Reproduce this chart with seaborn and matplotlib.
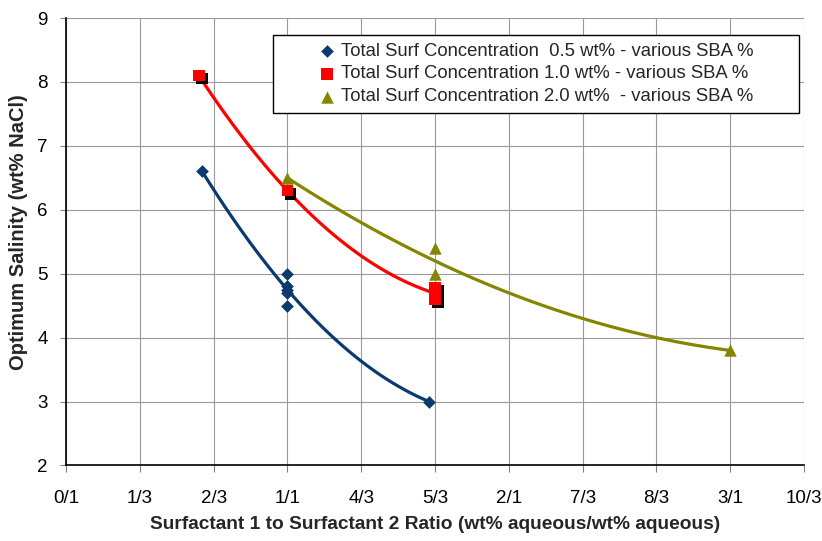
import numpy as np
import matplotlib
matplotlib.use("Agg")
import matplotlib.pyplot as plt
import matplotlib.patheffects as pe
from matplotlib.patches import Rectangle
import seaborn as sns

# ---------------- data ----------------
blue_label = "Total Surf Concentration  0.5 wt% - various SBA %"
blue_x = [0.615, 1.0, 1.0, 1.0, 1.0, 1.0, 1.64]
blue_y = [6.6, 5.0, 4.8, 4.75, 4.7, 4.5, 3.0]

red_label = "Total Surf Concentration 1.0 wt% - various SBA %"
red_x = [0.6, 1.0, 5 / 3, 5 / 3, 5 / 3]
red_y = [8.1, 6.3, 4.6, 4.7, 4.78]

olive_label = "Total Surf Concentration 2.0 wt%  - various SBA %"
olive_x = [1.0, 5 / 3, 5 / 3, 3.0]
olive_y = [6.5, 5.4, 5.0, 3.8]

x_tick_labels = ["0/1", "1/3", "2/3", "1/1", "4/3", "5/3", "2/1", "7/3", "8/3", "3/1", "10/3"]
y_ticks = [2, 3, 4, 5, 6, 7, 8, 9]

x_label = "Surfactant 1 to Surfactant 2 Ratio (wt% aqueous/wt% aqueous)"
y_label = "Optimum Salinity (wt% NaCl)"

# ---------------- style ----------------
sns.set_style("white")
plt.rcParams["font.family"] = ["Liberation Sans", "DejaVu Sans"]

BLUE = "#0A3A6E"
RED = "#FF0000"
OLIVE = "#858500"

fig = plt.figure(figsize=(8.22, 5.41), dpi=100)
ax = fig.add_axes([0.0803, 0.1396, 0.8978, 0.8271])

# trend lines (2nd order fits computed by seaborn)
for xs, ys, c in [(blue_x, blue_y, BLUE), (red_x, red_y, RED), (olive_x, olive_y, OLIVE)]:
    sns.regplot(x=np.array(xs), y=np.array(ys), order=2, ci=None, scatter=False,
                truncate=True, color=c, line_kws={"lw": 2.3, "zorder": 3}, ax=ax)

# markers
sns.scatterplot(x=blue_x, y=blue_y, marker="D", s=42, color=BLUE, linewidth=0,
                zorder=4, label=blue_label, ax=ax)
sns.scatterplot(x=red_x, y=red_y, marker="s", s=72, color=RED, linewidth=0,
                zorder=4, label=red_label, ax=ax)
sns.scatterplot(x=olive_x, y=olive_y, marker="^", s=80, color=OLIVE, linewidth=0,
                zorder=4, label=olive_label, ax=ax)

# shadow on red squares
red_coll = ax.collections[1]
red_coll.set_path_effects([pe.SimplePatchShadow(offset=(2.2, -2.2), shadow_rgbFace="black", alpha=1.0),
                           pe.Normal()])

# axes
n_ticks = len(x_tick_labels)
ax.set_xlim(0, (n_ticks - 1) / 3)
ax.set_ylim(min(y_ticks), max(y_ticks))
ax.set_xticks(np.arange(n_ticks) / 3)
ax.set_xticklabels(x_tick_labels)
ax.set_yticks(y_ticks)

ax.grid(True, color="#9A9A9A", lw=0.8, zorder=0)
ax.set_axisbelow(True)
for s in ["top", "right"]:
    ax.spines[s].set_visible(False)
for s in ["left", "bottom"]:
    ax.spines[s].set_color("black")
    ax.spines[s].set_linewidth(1.2)
    ax.spines[s].set_zorder(2.5)

ax.tick_params(axis="x", which="both", bottom=True, length=5, width=0.8, color="#808080",
               pad=13, labelsize=13.5, labelcolor="black")
ax.tick_params(axis="y", which="both", left=True, length=4, width=0.8, color="#808080",
               pad=9, labelsize=13.5, labelcolor="black")

ax.set_xlabel(x_label, fontsize=13.8, fontweight="bold", labelpad=6)
ax.set_ylabel(y_label, fontsize=14.5, fontweight="bold")
ax.yaxis.set_label_coords(-0.051, 0.522)

# legend with manual frame
frame = Rectangle((0.2805, 0.788), 0.7125, 0.174, transform=ax.transAxes,
                  facecolor="white", edgecolor="black", lw=1.0, zorder=4.9)
ax.add_patch(frame)
leg = ax.legend(loc="center", bbox_to_anchor=(0.637, 0.875), frameon=False,
                fontsize=13.3, handletextpad=0.3, labelspacing=0.32, handlelength=0.9,
                borderpad=0.2)
leg.set_zorder(5)
for h in leg.legend_handles:
    h.set_path_effects([])

fig.savefig("out.png", dpi=100)
